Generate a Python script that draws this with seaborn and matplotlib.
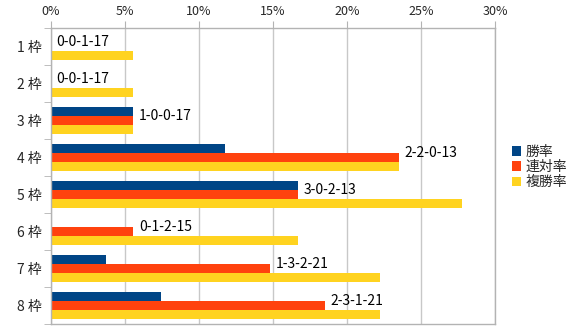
import matplotlib
matplotlib.use("Agg")
import matplotlib.pyplot as plt
import seaborn as sns
import pandas as pd
from matplotlib.ticker import FixedLocator, PercentFormatter

categories = ["1 枠", "2 枠", "3 枠", "4 枠", "5 枠", "6 枠", "7 枠", "8 枠"]
win_rate = [0.0, 0.0, 5.56, 11.76, 16.67, 0.0, 3.70, 7.41]
top2_rate = [0.0, 0.0, 5.56, 23.53, 16.67, 5.56, 14.81, 18.52]
top3_rate = [5.56, 5.56, 5.56, 23.53, 27.78, 16.67, 22.22, 22.22]
records = ["0-0-1-17", "0-0-1-17", "1-0-0-17", "2-2-0-13", "3-0-2-13",
           "0-1-2-15", "1-3-2-21", "2-3-1-21"]
series_names = ["勝率", "連対率", "複勝率"]
colors = ["#004586", "#ff420e", "#ffd320"]

sns.set_style("white")
plt.rcParams["font.family"] = ["Noto Sans CJK JP", "DejaVu Sans"]

rows = []
for name, vals in zip(series_names, [win_rate, top2_rate, top3_rate]):
    for c, v in zip(categories, vals):
        rows.append({"cat": c, "series": name, "value": v})
df = pd.DataFrame(rows)

fig = plt.figure(figsize=(5.7, 3.34), dpi=100)
ax = fig.add_axes([51/570, 1-324/334, (495-51)/570, (324-28)/334])

sns.barplot(data=df, y="cat", x="value", hue="series", order=categories,
            hue_order=series_names, palette=colors, orient="h", width=0.73,
            saturation=1, ax=ax, edgecolor="none", linewidth=0)

ax.set_xlim(0, 30)
ax.set_ylim(len(categories) - 0.5, -0.5)
ax.xaxis.set_major_locator(FixedLocator([0, 5, 10, 15, 20, 25, 30]))
ax.xaxis.set_major_formatter(PercentFormatter(decimals=0))
ax.xaxis.tick_top()
ax.tick_params(axis="x", which="major", direction="out", length=5, color="#b3b3b3",
               labelsize=9, pad=2, top=True, bottom=False)
ax.grid(axis="x", color="#c8c8c8", linewidth=1)
ax.set_axisbelow(True)
ax.set_xlabel("")
ax.set_ylabel("")

ax.yaxis.set_minor_locator(FixedLocator([i + 0.5 for i in range(-1, len(categories))]))
ax.tick_params(axis="y", which="major", length=0, labelsize=10, pad=6.5)
ax.tick_params(axis="y", which="minor", direction="out", length=5, color="#b3b3b3", left=True)

for s in ax.spines.values():
    s.set_visible(True)
    s.set_color("#b3b3b3")
    s.set_linewidth(1)

mid = ax.containers[1]
for bar, lab in zip(mid, records):
    x = bar.get_x() + bar.get_width()
    y = bar.get_y() + bar.get_height() / 2
    ax.annotate(lab, (x, y), xytext=(4, 3), textcoords="offset points",
                va="center", ha="left", fontsize=10, color="black")

ax.legend(loc="upper left", bbox_to_anchor=(1.025, 0.625), frameon=False,
          handlelength=0.7, handleheight=0.7, handletextpad=0.3,
          labelspacing=0.1, fontsize=10, borderaxespad=0)

fig.savefig("out.png", dpi=100)
